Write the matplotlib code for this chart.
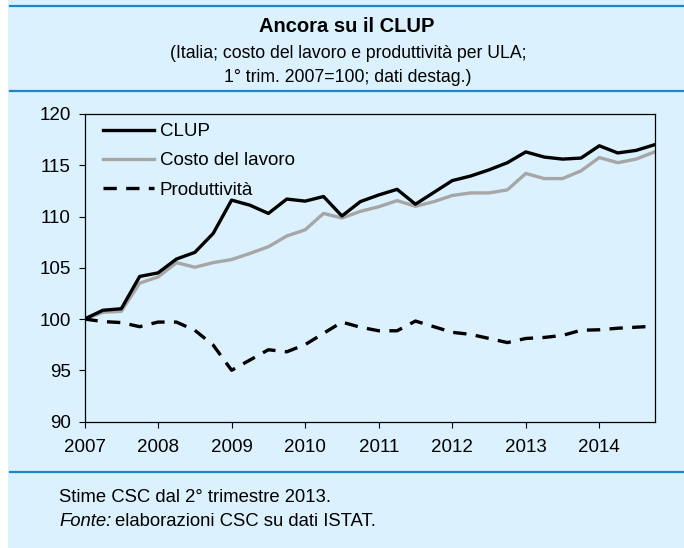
import matplotlib
matplotlib.use("Agg")
import matplotlib.pyplot as plt
from matplotlib.lines import Line2D
from matplotlib.patches import Rectangle

# -----------------------------
# Dati (trimestrali, 1° trim. 2007 = 100)
# -----------------------------
start_year = 2007
clup = [100.0, 100.85, 101.0, 104.15, 104.5, 105.85, 106.5, 108.35, 111.6, 111.1,
        110.3, 111.7, 111.5, 111.95, 110.05, 111.45, 112.1, 112.65, 111.2, 112.35,
        113.5, 113.95, 114.55, 115.25, 116.3, 115.8, 115.6, 115.7, 116.9, 116.2,
        116.45, 117.0]
costo = [100.0, 100.65, 100.75, 103.5, 104.1, 105.5, 105.05, 105.5, 105.8, 106.4,
         107.05, 108.1, 108.7, 110.3, 109.85, 110.5, 110.95, 111.55, 111.0, 111.45,
         112.05, 112.3, 112.3, 112.6, 114.2, 113.7, 113.7, 114.45, 115.75, 115.25,
         115.6, 116.3]
prod = [100.0, 99.75, 99.65, 99.25, 99.7, 99.7, 98.9, 97.45, 95.0, 96.0,
        97.0, 96.8, 97.5, 98.6, 99.7, 99.2, 98.85, 98.85, 99.8, 99.25,
        98.7, 98.5, 98.1, 97.7, 98.1, 98.2, 98.4, 98.9, 98.95, 99.1,
        99.2, 99.3]
years = list(range(2007, 2015))
yticks = [90, 95, 100, 105, 110, 115, 120]
labels = ["CLUP", "Costo del lavoro", "Produttività"]

x = [start_year + 0.25 * i for i in range(len(clup))]

# -----------------------------
# Stile
# -----------------------------
plt.rcParams['font.family'] = ['Liberation Sans', 'DejaVu Sans']
BG = "#DBF1FD"
BLUE = "#1C86C6"
GREY = "#A6A6A6"
W, H = 684, 548

fig = plt.figure(figsize=(W / 100, H / 100), dpi=100, facecolor="white")
fig.patches.append(Rectangle((8 / W, 0), 1 - 8 / W, 1, transform=fig.transFigure,
                             facecolor=BG, edgecolor="none", zorder=-5))

# linee blu di separazione
for yy in (6, 91, 472):
    fig.add_artist(Line2D([10 / W, 1], [1 - yy / H, 1 - yy / H], color=BLUE, lw=1.6))

# titolo
fig.text(347 / W, 1 - 27 / H, "Ancora su il CLUP", ha="center", va="center",
         fontsize=14.5, fontweight="bold")
fig.text(348 / W, 1 - 53 / H, "(Italia; costo del lavoro e produttività per ULA;",
         ha="center", va="center", fontsize=12.7)
fig.text(348 / W, 1 - 77 / H, "1° trim. 2007=100; dati destag.)",
         ha="center", va="center", fontsize=12.7)

# -----------------------------
# Grafico
# -----------------------------
left, right, top, bottom = 84.5, 654.5, 114, 421.5
ax = fig.add_axes([left / W, 1 - bottom / H, (right - left) / W, (bottom - top) / H])
ax.patch.set_visible(False)

ax.plot(x, clup, color="black", lw=2.4, label=labels[0], zorder=3)
ax.plot(x, costo, color=GREY, lw=2.4, label=labels[1], zorder=2)
ax.plot(x, prod, color="black", lw=2.4, ls=(0, (4, 2.8)), label=labels[2], zorder=3)

ax.set_xlim(start_year, x[-1])
ax.set_ylim(90, 120)
ax.set_xticks(years)
ax.set_yticks(yticks)
ax.tick_params(axis="both", direction="out", length=4.3, width=0.8, labelsize=13.5)
ax.tick_params(axis="y", pad=5.5)
ax.tick_params(axis="x", pad=8.5)
for s in ax.spines.values():
    s.set_linewidth(0.9)
    s.set_color("black")

ax.legend(loc="upper left", bbox_to_anchor=(0.032, 0.97), frameon=False,
          fontsize=13.5, handlelength=2.75, handletextpad=0.28, labelspacing=0.64,
          borderpad=0, borderaxespad=0)

# -----------------------------
# Note
# -----------------------------
fig.text(59 / W, 1 - 497 / H, "Stime CSC dal 2° trimestre 2013.", ha="left",
         va="center", fontsize=13.3)
t = fig.text(59 / W, 1 - 522 / H, "Fonte:", ha="left", va="center",
             fontsize=13.3, style="italic")
fig.canvas.draw()
bb = t.get_window_extent()
fig.text((bb.x1 + 4) / W, 1 - 522 / H, "elaborazioni CSC su dati ISTAT.",
         ha="left", va="center", fontsize=13.3)

fig.savefig("out.png", dpi=100, facecolor=fig.get_facecolor())
